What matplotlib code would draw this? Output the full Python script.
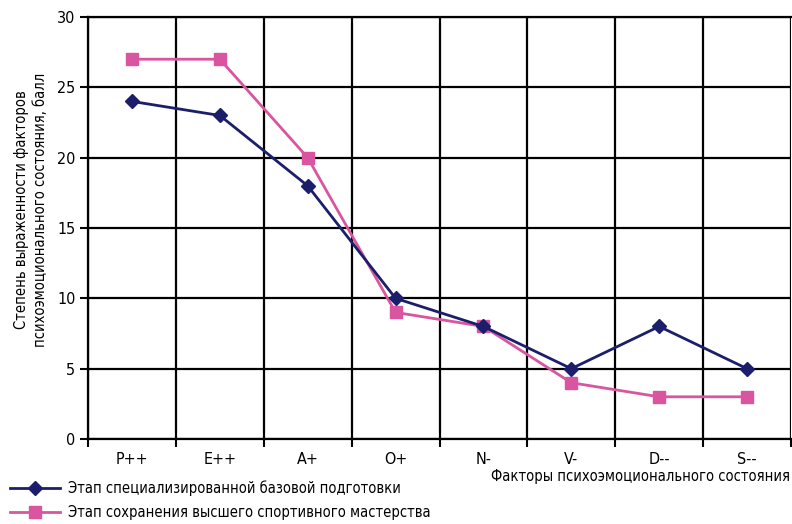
import matplotlib
matplotlib.use("Agg")
import matplotlib.pyplot as plt
from matplotlib.ticker import MultipleLocator, FixedLocator

categories = ["P++", "E++", "A+", "O+", "N-", "V-", "D--", "S--"]
series1 = [24, 23, 18, 10, 8, 5, 8, 5]
series2 = [27, 27, 20, 9, 8, 4, 3, 3]
name1 = "Этап специализированной базовой подготовки"
name2 = "Этап сохранения высшего спортивного мастерства"
xlabel = "Факторы психоэмоционального состояния"
ylabel = "Степень выраженности факторов\nпсихоэмоционального состояния, балл"

plt.rcParams['font.family'] = ['DejaVu Sans']
plt.rcParams['font.stretch'] = 'condensed'

blue = "#1B1F6B"
pink = "#D9559F"
FS = 10.5

fig = plt.figure(figsize=(7.92, 5.24), dpi=100)
ax = fig.add_axes([88/792, 85/524, 703/792, 422/524])

x = list(range(len(categories)))
l2, = ax.plot(x, series2, color=pink, lw=2, marker="s", ms=8, zorder=3, label=name2)
l1, = ax.plot(x, series1, color=blue, lw=2, marker="D", ms=7, zorder=4, label=name1)

ax.set_xlim(-0.5, len(categories) - 0.5)
ax.set_ylim(0, 30)
ax.yaxis.set_major_locator(MultipleLocator(5))
ax.set_xticks(x)
ax.set_xticklabels(categories)
ax.xaxis.set_minor_locator(FixedLocator([i - 0.5 for i in range(len(categories) + 1)]))
ax.tick_params(axis="x", which="major", length=0, labelsize=FS + 1, pad=9)
ax.tick_params(axis="x", which="minor", length=6, width=1.5, direction="out")
ax.tick_params(axis="y", which="major", length=6, width=1.5, labelsize=FS + 1, pad=3)
ax.grid(True, axis="y", which="major", color="black", lw=1.6)
ax.grid(True, axis="x", which="minor", color="black", lw=1.6)
ax.grid(False, axis="x", which="major")
for s in ax.spines.values():
    s.set_linewidth(1.6)
ax.spines["right"].set_visible(False)
ax.set_axisbelow(True)

fig.text(31/792, 1 - 210/524, ylabel, rotation=90, ha="center", va="center",
         multialignment="center", fontsize=FS, linespacing=1.35)
fig.text(790/792, 1 - 476/524, xlabel, ha="right", va="center", fontsize=FS)

fig.legend(handles=[l1, l2], loc="lower left", bbox_to_anchor=(0.0, -0.012),
           frameon=False, fontsize=FS, handlelength=3.4, labelspacing=0.62,
           borderaxespad=0.3, handletextpad=0.55)

fig.savefig("out.png", dpi=100)
